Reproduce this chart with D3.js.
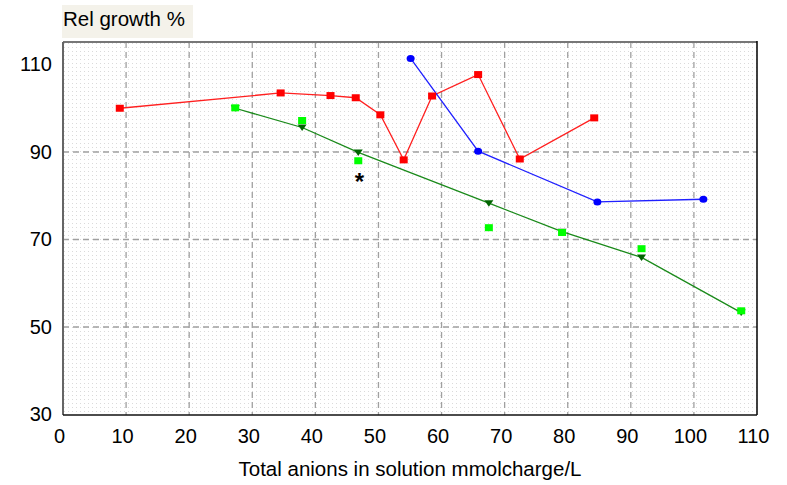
<!DOCTYPE html>
<html><head><meta charset="utf-8">
<script src="https://cdn.jsdelivr.net/npm/d3@7"></script>
<style>body{margin:0;background:#fff;}svg{display:block;font-family:"Liberation Sans",Arial,sans-serif;}</style>
</head><body><svg id="c" width="787" height="485"></svg>
<script>
// Data
const redX = [9, 34.5, 42.4, 46.4, 50.3, 54.0, 58.5, 65.8, 72.4, 84.2];
const redY = [100, 103.5, 102.9, 102.4, 98.5, 88.2, 102.8, 107.7, 88.4, 97.8];
const blueX = [55.1, 65.8, 84.7, 101.5];
const blueY = [111.4, 90.2, 78.6, 79.2];
const greenLineX = [27.3, 37.9, 46.8, 67.5, 79.1, 91.7, 107.5];
const greenLineY = [100, 95.6, 89.9, 78.3, 71.8, 65.9, 53.3];
const greenSqX = [27.3, 37.9, 46.8, 67.5, 79.1, 91.7, 107.5];
const greenSqY = [100.1, 97.2, 88.0, 72.7, 71.6, 67.9, 53.7];
const starX = [47.0];
const starY = [83.8];
const xTicks = [0,10,20,30,40,50,60,70,80,90,100,110];
const yTicks = [30,50,70,90,110];
const yGrid = [50,70,90];
const xGrid = [10,20,30,40,50,60,70,80,90,100];

const svg = d3.select("#c");
const L=63, R=757, T=42, B=415;
const x = d3.scaleLinear().domain([0,110]).range([L,R]);
const y = d3.scaleLinear().domain([30,110]).range([414.5,64.5]);

// pattern
const defs = svg.append("defs");
const pat = defs.append("pattern").attr("id","dots").attr("patternUnits","userSpaceOnUse")
  .attr("width",4).attr("height",4).attr("x",L).attr("y",T);
pat.append("rect").attr("width",4).attr("height",4).attr("fill","#fff");
pat.append("rect").attr("x",1).attr("y",1).attr("width",1).attr("height",1).attr("fill","#dadada");

// title box
svg.append("rect").attr("x",62).attr("y",5).attr("width",131).attr("height",33).attr("fill","#f4f2ea");
svg.append("text").attr("x",63).attr("y",26).attr("font-size",20.5).attr("fill","#000").text("Rel growth %");

// plot background
svg.append("rect").attr("x",L).attr("y",T).attr("width",R-L).attr("height",B-T).attr("fill","url(#dots)");

// gridlines
svg.append("g").selectAll("line").data(xGrid).join("line")
  .attr("x1",d=>x(d)).attr("x2",d=>x(d)).attr("y1",T).attr("y2",B)
  .attr("stroke","#a0a0a0").attr("stroke-width",1.3).attr("stroke-dasharray","6,4");
svg.append("g").selectAll("line").data(yGrid).join("line")
  .attr("x1",L).attr("x2",R).attr("y1",d=>y(d)).attr("y2",d=>y(d))
  .attr("stroke","#a0a0a0").attr("stroke-width",1.3).attr("stroke-dasharray","6,4");

// frame
svg.append("line").attr("x1",L).attr("x2",R).attr("y1",T).attr("y2",T).attr("stroke","#777").attr("stroke-width",2);
svg.append("line").attr("x1",L).attr("x2",L).attr("y1",T).attr("y2",B).attr("stroke","#666").attr("stroke-width",2);
svg.append("line").attr("x1",R).attr("x2",R).attr("y1",T-1).attr("y2",B).attr("stroke","#000").attr("stroke-width",1.5);
svg.append("line").attr("x1",L).attr("x2",R).attr("y1",B).attr("y2",B).attr("stroke","#111").attr("stroke-width",1.3);

// axes labels via d3 axes
const xAxis = svg.append("g").attr("transform",`translate(-4,${B})`)
  .call(d3.axisBottom(x).tickValues(xTicks).tickSize(0).tickPadding(14).tickFormat(d3.format("d")));
xAxis.select(".domain").remove();
xAxis.selectAll("text").attr("font-size",20).attr("fill","#000").attr("font-family","Liberation Sans, Arial, sans-serif");
const yAxis = svg.append("g").attr("transform",`translate(${L},0)`)
  .call(d3.axisLeft(y).tickValues(yTicks).tickSize(0).tickPadding(11).tickFormat(d3.format("d")));
yAxis.select(".domain").remove();
yAxis.selectAll("text").attr("font-size",20).attr("fill","#000").attr("font-family","Liberation Sans, Arial, sans-serif");

svg.append("text").attr("x",x(55)).attr("y",476).attr("text-anchor","middle").attr("font-size",20.5).attr("fill","#000")
  .text("Total anions in solution mmolcharge/L");

const line = d3.line().x(d=>x(d[0])).y(d=>y(d[1]));
const red = redX.map((v,i)=>[v,redY[i]]);
const blue = blueX.map((v,i)=>[v,blueY[i]]);
const gl = greenLineX.map((v,i)=>[v,greenLineY[i]]);
const gs = greenSqX.map((v,i)=>[v,greenSqY[i]]);

svg.append("path").attr("d",line(gl)).attr("fill","none").attr("stroke","#1a8a1a").attr("stroke-width",1.3);
svg.append("path").attr("d",line(red)).attr("fill","none").attr("stroke","#ff2020").attr("stroke-width",1.3);
svg.append("path").attr("d",line(blue)).attr("fill","none").attr("stroke","#2020ff").attr("stroke-width",1.3);

// triangles
svg.append("g").selectAll("path").data(gl).join("path")
  .attr("d",d=>{const cx=x(d[0]),cy=y(d[1]);return `M${cx-4.5},${cy-3}L${cx+4.5},${cy-3}L${cx},${cy+3.5}Z`;})
  .attr("fill","#006400");
// green squares
svg.append("g").selectAll("rect").data(gs).join("rect")
  .attr("x",d=>x(d[0])-4).attr("y",d=>y(d[1])-3.5).attr("width",8).attr("height",7).attr("fill","#00ff00");
// red squares
svg.append("g").selectAll("rect").data(red).join("rect")
  .attr("x",d=>x(d[0])-4).attr("y",d=>y(d[1])-3.5).attr("width",8).attr("height",7).attr("fill","#ff0000");
// blue circles
svg.append("g").selectAll("ellipse").data(blue).join("ellipse")
  .attr("cx",d=>x(d[0])).attr("cy",d=>y(d[1])).attr("rx",4).attr("ry",3.5).attr("fill","#0000ff");
// asterisk
svg.append("g").selectAll("text").data(starX.map((v,i)=>[v,starY[i]])).join("text")
  .attr("x",d=>x(d[0])).attr("y",d=>y(d[1])+11).attr("text-anchor","middle").attr("font-size",24).attr("font-weight","bold").attr("fill","#000").text("*");
</script></body></html>
